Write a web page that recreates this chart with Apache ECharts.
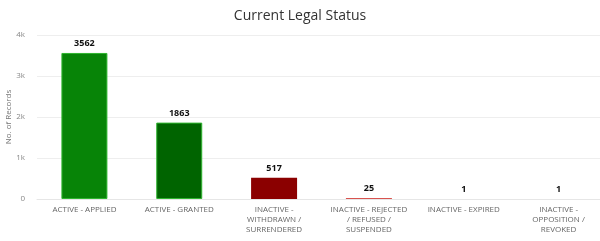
<!DOCTYPE html>
<html><head><meta charset="utf-8">
<script src="https://cdn.jsdelivr.net/npm/echarts@6/dist/echarts.min.js"></script>
<style>html,body{margin:0;padding:0;background:#fff;overflow:hidden}#c{width:600px;height:241px}</style>
</head><body><div id="c"></div>
<script>
const categories = ["ACTIVE - APPLIED", "ACTIVE - GRANTED", "INACTIVE -\nWITHDRAWN /\nSURRENDERED", "INACTIVE - REJECTED\n/ REFUSED /\nSUSPENDED", "INACTIVE - EXPIRED", "INACTIVE -\nOPPOSITION /\nREVOKED"];
const values = [3562, 1863, 517, 25, 1, 1];
const barColors = ["#078407", "#006400", "#8b0000", "#d9534f", "#666666", "#666666"];
const yTicks = [0, 1000, 2000, 3000, 4000];

const chart = echarts.init(document.getElementById('c'), null, {renderer: 'canvas'});
chart.setOption({
  animation: false,
  title: {text: 'Current Legal Status', left: 'center', top: 4,
    textStyle: {fontFamily: 'Open Sans', fontWeight: 'normal', fontSize: 14, color: '#333'}},
  grid: {left: 37, right: -6, top: 35, bottom: 42, outerBoundsMode: 'none', containLabel: false},
  xAxis: {
    type: 'category', data: categories,
    axisLine: {lineStyle: {color: '#e6e6e6'}},
    axisTick: {alignWithLabel: true, length: 5, lineStyle: {color: '#e0e0e0'}},
    axisLabel: {interval: 0, fontFamily: 'Open Sans', fontSize: 8, color: '#666', lineHeight: 10, margin: 6}
  },
  yAxis: {
    type: 'value', min: yTicks[0], max: yTicks[yTicks.length - 1], interval: 1000,
    name: 'No. of Records', nameLocation: 'middle', nameGap: 24, nameMoveOverlap: false,
    nameTextStyle: {fontFamily: 'Open Sans', fontSize: 8, color: '#777'},
    axisLabel: {fontFamily: 'Open Sans', fontSize: 8, color: '#888', margin: 12,
      formatter: v => v === 0 ? '0' : (v / 1000) + 'k'},
    splitLine: {lineStyle: {color: '#eeeeee'}},
    axisLine: {show: false}, axisTick: {show: false}
  },
  series: [{
    type: 'bar', barWidth: '48.5%',
    data: values.map((v, i) => ({value: v, itemStyle: {color: barColors[i], borderColor: i < 2 ? '#2fb52f' : barColors[i], borderWidth: i < 2 ? 1 : 0}})),
    label: {show: true, position: 'top', distance: 5, fontFamily: 'Open Sans', fontWeight: 'bold', fontSize: 9, color: '#111'}
  }]
});
</script></body></html>
